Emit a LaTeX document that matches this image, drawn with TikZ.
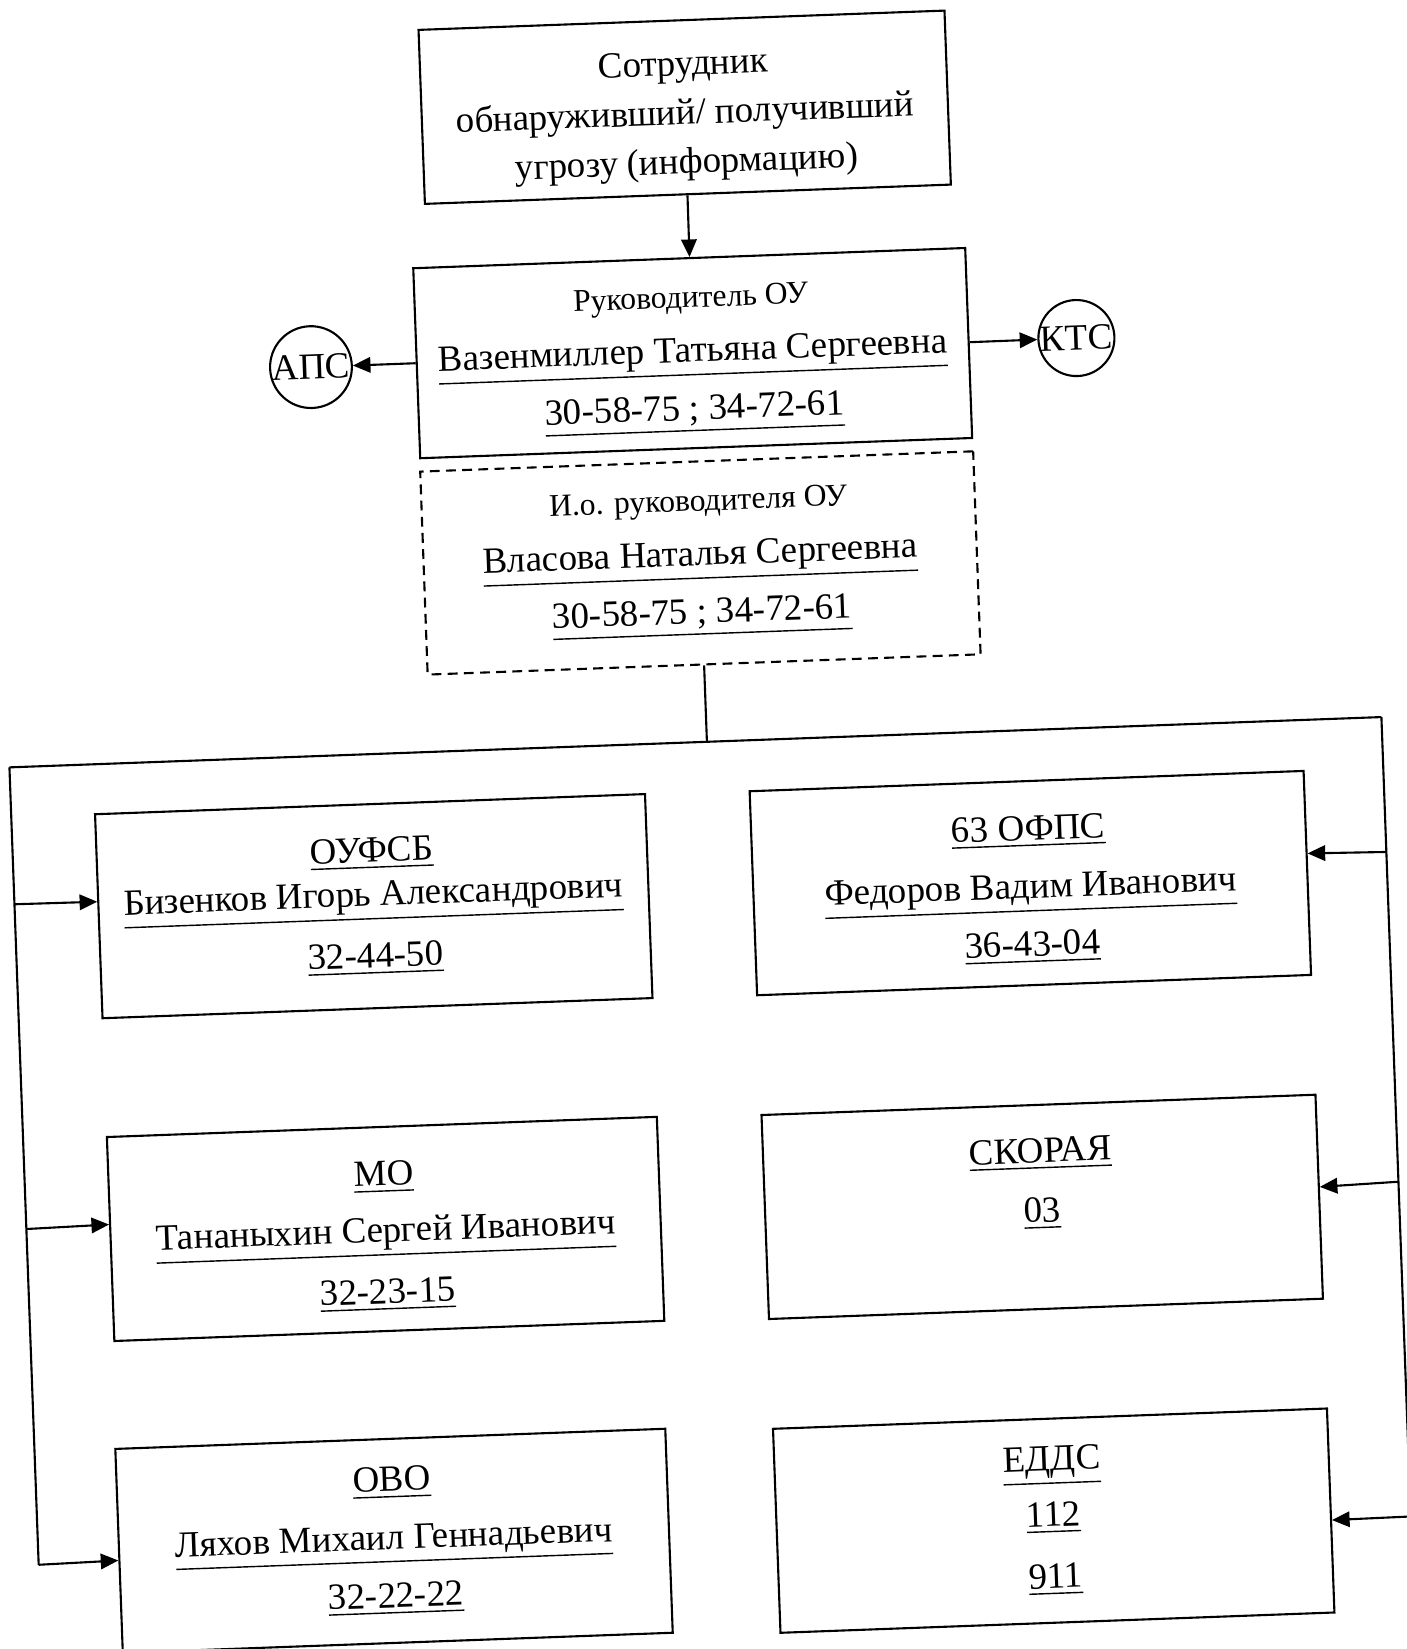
\documentclass[tikz,border=0pt]{standalone}
\usepackage{fontspec}
\setmainfont{Liberation Serif}
\usetikzlibrary{arrows.meta}
\newcommand{\Px}{0.01cm}
\newcommand{\Lift}[1]{\rule{0pt}{#1}}
\tikzset{Card/.style={
    draw=black,
    line width=0.6pt,
    inner sep=0pt,
    align=center,
    minimum width=5.5cm,
    minimum height=2.04cm
    },
    Spare/.style={Card, dash pattern=on 2.8pt off 1.8pt},
    Ring/.style={circle, draw=black, line width=0.6pt, inner sep=0pt, minimum size=0.76cm},
    Wire/.style={line width=0.6pt},
    Link/.style={Wire, -{Triangle[length=5pt,width=4.4pt]}},
    font={\fontsize{10.5pt}{12.5pt}\selectfont}
}

\begin{document}
\begin{tikzpicture}[x=\Px, y=-\Px]
\useasboundingbox (0,0) rectangle (1407,1649);
\begin{scope}[rotate around={2.1:(704,825)}, transform shape]
% top of the chain
\node [Card, minimum width=5.26cm, minimum height=1.74cm] (worker) at (711,107)
  {\Lift{12pt}Сотрудник\\[1.5pt]обнаруживший/ получивший\\[1.5pt]угрозу (информацию)};
\node [Card, minimum width=5.52cm, minimum height=1.9cm] (head) at (710,353)
  {{\fontsize{9pt}{11pt}\selectfont\Lift{9.6pt}Руководитель ОУ}\\[3pt]
   \underline{Вазенмиллер Татьяна Сергеевна}\\[4pt]
   \underline{30-58-75 ; 34-72-61}};
\node [Spare, minimum width=5.53cm, minimum height=2.03cm] (deputy) at (710,563)
  {{\fontsize{9pt}{11pt}\selectfont И.о. руководителя ОУ}\\[3pt]
   \underline{Власова Наталья Сергеевна}\\[4pt]
   \underline{30-58-75 ; 34-72-61}};
\node [Ring] (aps) at (328,353) {АПС};
\node [Ring] (kts) at (1094,352) {КТС};

% services
\node [Card] (oufsb) at (371,894)
  {\underline{ОУФСБ}\\\underline{Бизенков Игорь Александрович}\\[5pt]\underline{32-44-50}};
\node [Card, minimum width=5.54cm] (ofps) at (1028,895)
  {\Lift{10.6pt}\underline{63 ОФПС}\\[4pt]\underline{Федоров Вадим Иванович}\\[4pt]\underline{36-43-04}};
\node [Card] (mo) at (371,1217)
  {\Lift{11pt}\underline{МО}\\[3.5pt]\underline{Тананыхин Сергей Иванович}\\[5pt]\underline{32-23-15}};
\node [Card, minimum width=5.54cm] (skoraya) at (1028,1219)
  {\Lift{8.7pt}\underline{СКОРАЯ}\\[4.5pt]\underline{03}\\[4.5pt]\mbox{}};
\node [Card] (ovo) at (368,1529)
  {\underline{ОВО}\\[4pt]\underline{Ляхов Михаил Геннадьевич}\\[4pt]\underline{32-22-22}};
\node [Card, minimum width=5.54cm] (edds) at (1028,1533)
  {\underline{ЕДДС}\\[3.5pt]\underline{112}\\[5pt]\underline{911}};

% bus corners and arrow feet
\coordinate (junction) at (710,742);
\coordinate (busL) at (12,742);
\coordinate (busR) at (1385,742);
\coordinate (l1) at (12,879);
\coordinate (l2) at (12,1204);
\coordinate (l3) at (12,1540);
\coordinate (r1) at (1385,877);
\coordinate (r2) at (1385,1207);
\coordinate (r3) at (1385,1542);

\draw [Link] (worker) -- (head);
\draw [Link] (head) -- (aps);
\draw [Link] (head) -- (kts);
\draw [Wire] (deputy.south) -- (junction);
\draw [Wire] (busL) -- (busR);
\draw [Wire] (busL) -- (l3);
\draw [Wire] (busR) -- (r3);
\draw [Link] (l1) -- (oufsb.177);
\draw [Link] (l2) -- (mo.177);
\draw [Link] (l3) -- (ovo.182);
\draw [Link] (r1) -- (ofps.4);
\draw [Link] (r2) -- (skoraya.2.5);
\draw [Link] (r3) -- (edds.358);
\end{scope}
\end{tikzpicture}
\end{document}
